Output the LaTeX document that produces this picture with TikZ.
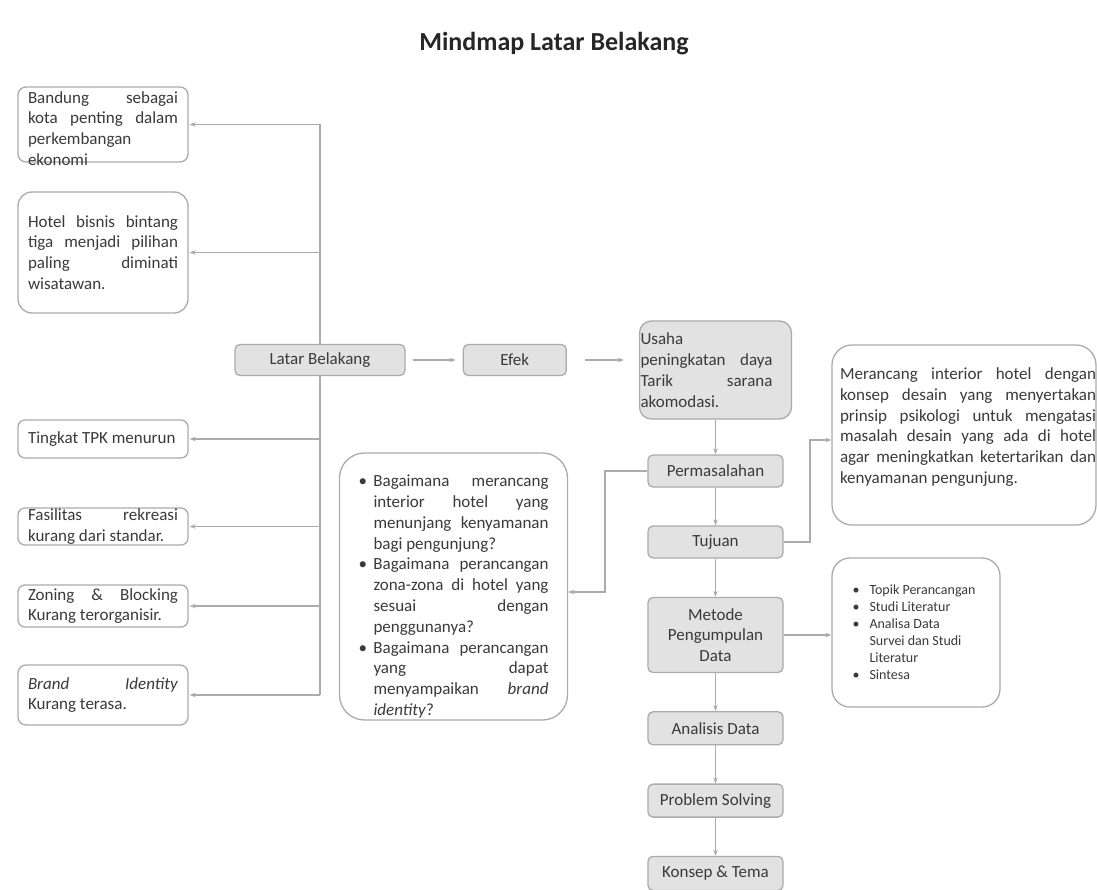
\documentclass[tikz,border=0pt]{standalone}
\usepackage{fontspec}
\setmainfont{Carlito}
\usetikzlibrary{positioning}
\usetikzlibrary{arrows.meta}
\definecolor{garisabu}{HTML}{ABABAB}
\definecolor{isiabu}{HTML}{E2E2E2}
\definecolor{teksabu}{HTML}{3A3A3A}
\newcommand{\isi}{\fontsize{17pt}{20.8pt}\selectfont}
\newcommand{\kecil}{\fontsize{14pt}{17pt}\selectfont}
\newcommand{\poin}[1]{\par\noindent\hangindent=#1\hangafter=1\makebox[#1][l]{\textbullet}}
\newcommand{\kiri}[5]{\node[kotak, rounded corners=#4pt, minimum width=170pt] (#1) at (103, #2) {\parbox[c][#3pt][c]{150pt}{#5}};}
\tikzstyle{every node}=[font=\isi, text=teksabu, inner sep=0pt]
\tikzstyle{kotak}=[draw=garisabu, line width=1.3pt, rounded corners=7pt]
\tikzstyle{abu}=[kotak, fill=isiabu, rounded corners=5pt]
\tikzstyle{garis}=[draw=garisabu, line width=1.3pt]
\tikzstyle{panah}=[garis, -{Stealth[length=6pt, width=4.5pt]}]
\hyphenpenalty=10000
\exhyphenpenalty=10000
\hbadness=10000
\vbadness=10000

\begin{document}
\begin{tikzpicture}[x=1pt, y=-1pt]
\path[fill=white, use as bounding box] (0,0) rectangle (1097,890);
\node[font=\fontsize{26pt}{31pt}\selectfont\bfseries, text=black!85] (judul) at (554,44) {Mindmap Latar Belakang};

\kiri{bandung}{124.5}{75}{8}{\vspace*{8pt}Bandung sebagai\linebreak kota penting dalam\linebreak perkembangan\newline ekonomi}
\kiri{hotel}{252.5}{121}{14}{Hotel bisnis bintang\linebreak tiga menjadi pilihan\linebreak paling diminati\linebreak wisatawan.}
\kiri{tpk}{439}{38}{7}{Tingkat TPK menurun}
\kiri{fasilitas}{526.5}{37}{7}{Fasilitas rekreasi\linebreak kurang dari standar.}
\kiri{zoning}{606}{42}{7}{Zoning \& Blocking\linebreak Kurang terorganisir.}
\kiri{brand}{695}{60}{8}{\textit{Brand} \textit{Identity}\linebreak Kurang terasa.}

\node[abu, minimum width=170pt, minimum height=31pt] (latar) at (320,360) {Latar Belakang};
\node[abu, minimum width=103pt, minimum height=31pt, right=57pt of latar] (efek) {Efek};
\node[abu, rounded corners=12pt, minimum width=152pt, minimum height=98pt] (usaha) at (715.5,370) {\hspace*{1pt}\parbox{132pt}{Usaha\newline peningkatan daya\linebreak Tarik sarana\linebreak akomodasi.}\hspace*{19pt}};

\node[abu, minimum width=135pt, minimum height=32pt] (masalah) at (715.5,471) {Permasalahan};
\node[abu, minimum width=135pt, minimum height=32pt] (tujuan) at (715.5,542) {Tujuan};
\node[abu, minimum width=135pt, minimum height=75pt, align=center] (metode) at (715.5,635) {Metode\\Pengumpulan\\Data};
\node[abu, minimum width=135pt, minimum height=33pt, below=38pt of metode] (analisis) {Analisis Data};
\node[abu, minimum width=135pt, minimum height=33pt, below=38pt of analisis] (solving) {Problem Solving};
\node[abu, minimum width=135pt, minimum height=34pt, below=38pt of solving] (konsep) {Konsep \& Tema};

\node[kotak, rounded corners=25pt, minimum width=228pt, minimum height=267pt] (pertanyaan) at (453.5,586.5) {\parbox[c][245pt][t]{190pt}{\vspace*{11pt}\poin{15pt}Bagaimana merancang\linebreak interior hotel yang\linebreak menunjang kenyamanan\linebreak bagi pengunjung?\poin{15pt}Bagaimana perancangan\linebreak zona-zona di hotel yang\linebreak sesuai dengan\linebreak penggunanya?\poin{15pt}Bagaimana perancangan\linebreak yang dapat\linebreak menyampaikan \textit{brand}\linebreak \textit{identity}?}};
\node[kotak, rounded corners=20pt, minimum width=264pt, minimum height=180pt] (merancang) at (964,435) {\hspace*{8pt}\parbox[c][170pt][c]{256pt}{Merancang interior hotel dengan\linebreak konsep desain yang menyertakan\linebreak prinsip psikologi untuk mengatasi\linebreak masalah desain yang ada di hotel\linebreak agar meningkatkan ketertarikan dan\linebreak kenyamanan pengunjung.\par\vspace*{16pt}}};
\node[kotak, rounded corners=18pt, minimum width=168pt, minimum height=149pt] (daftar) at (916,632.5) {\hspace*{18pt}\parbox{145pt}{\kecil\raggedright\poin{17pt}Topik Perancangan\poin{17pt}Studi Literatur\poin{17pt}Analisa Data\newline Survei dan Studi\newline Literatur\poin{17pt}Sintesa}};

\draw[garis] (latar.north) -- (latar.north |- bandung.east);
\draw[garis] (latar.south) -- (latar.south |- brand.east);
\foreach \n in {bandung, hotel, tpk, fasilitas, zoning, brand}
{
\draw[panah, shorten >=1pt] (latar.north |- \n.east) -- (\n.east);
}

\draw[panah, shorten <=7pt, shorten >=7pt] (latar) -- (efek);
\draw[panah, shorten <=18pt, shorten >=15pt] (efek.east) -- (efek.east -| usaha.west);

\foreach \a/\b in {usaha/masalah, masalah/tujuan, tujuan/metode, metode/analisis, analisis/solving, solving/konsep}
{
\draw[panah] (\a) -- (\b);
}

\coordinate (tekukA) at (605,592);
\coordinate (tekukB) at (810,440);
\draw[panah] (masalah.west) -| (tekukA) -- (tekukA -| pertanyaan.east);
\draw[panah] (tujuan.east) -| (tekukB) -- (tekukB -| merancang.west);
\draw[panah] (metode.east) -- (metode.east -| daftar.west);
\end{tikzpicture}
\end{document}
